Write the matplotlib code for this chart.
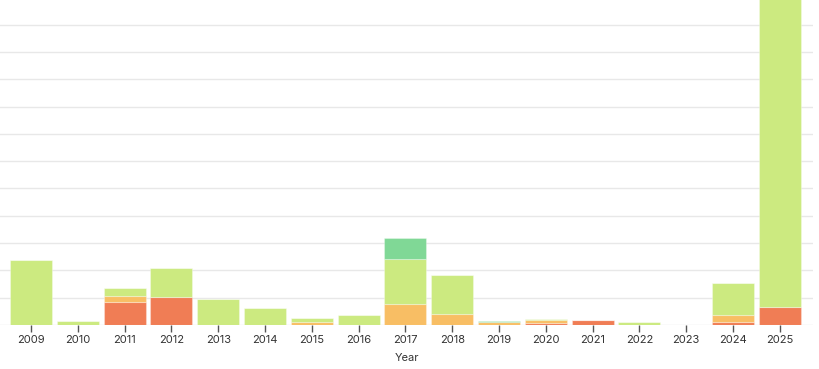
import matplotlib
matplotlib.use("Agg")
import matplotlib.pyplot as plt
import numpy as np

plt.rcParams['font.family'] = ['Inter', 'DejaVu Sans']

years = ["2009", "2010", "2011", "2012", "2013", "2014", "2015", "2016", "2017",
         "2018", "2019", "2020", "2021", "2022", "2023", "2024", "2025"]
red_vals = [0, 0, 0.85, 1.04, 0, 0, 0, 0, 0, 0, 0, 0.08, 0.17, 0, 0, 0.11, 0.67]
orange_vals = [0, 0, 0.20, 0, 0, 0, 0.11, 0, 0.76, 0.40, 0.12, 0.12, 0, 0, 0, 0.25, 0]
lightgreen_vals = [2.37, 0.16, 0.30, 1.03, 0.95, 0.61, 0.15, 0.36, 1.66, 1.42, 0, 0.02, 0, 0.11, 0, 1.17, 12.5]
green_vals = [0, 0, 0, 0, 0, 0, 0, 0, 0.76, 0, 0.04, 0, 0, 0, 0, 0, 0]

series = [red_vals, orange_vals, lightgreen_vals, green_vals]
colors = ["#f07d55", "#f8be64", "#ccea80", "#80d896"]

fig = plt.figure(figsize=(8.19, 3.69), dpi=100)
ax = fig.add_axes([0, 44 / 369, 813 / 819, 325 / 369])

x = np.arange(len(years))
bottom = np.zeros(len(years))
for vals, c in zip(series, colors):
    v = np.array(vals)
    ax.bar(x, v, width=0.9, bottom=bottom, color=c, edgecolor=(1, 1, 1, 0.3),
           linewidth=0.8, zorder=3)
    bottom += v

ax.set_xlim(-0.662, 16.71)
ax.set_ylim(0, 11.9)
ax.set_yticks(np.arange(0, 12, 1))
ax.yaxis.grid(True, color="#e8e8e8", linewidth=1.0, zorder=0)
ax.tick_params(axis='y', left=False, labelleft=False)
ax.set_xticks(x)
ax.set_xticklabels(years, fontsize=8, color="#333333")
ax.tick_params(axis='x', length=5, width=1, color="#555555", pad=2)
for s in ax.spines.values():
    s.set_visible(False)
ax.set_xlabel("Year", fontsize=8, color="#333333", labelpad=6)

fig.savefig("out.png", dpi=100)
